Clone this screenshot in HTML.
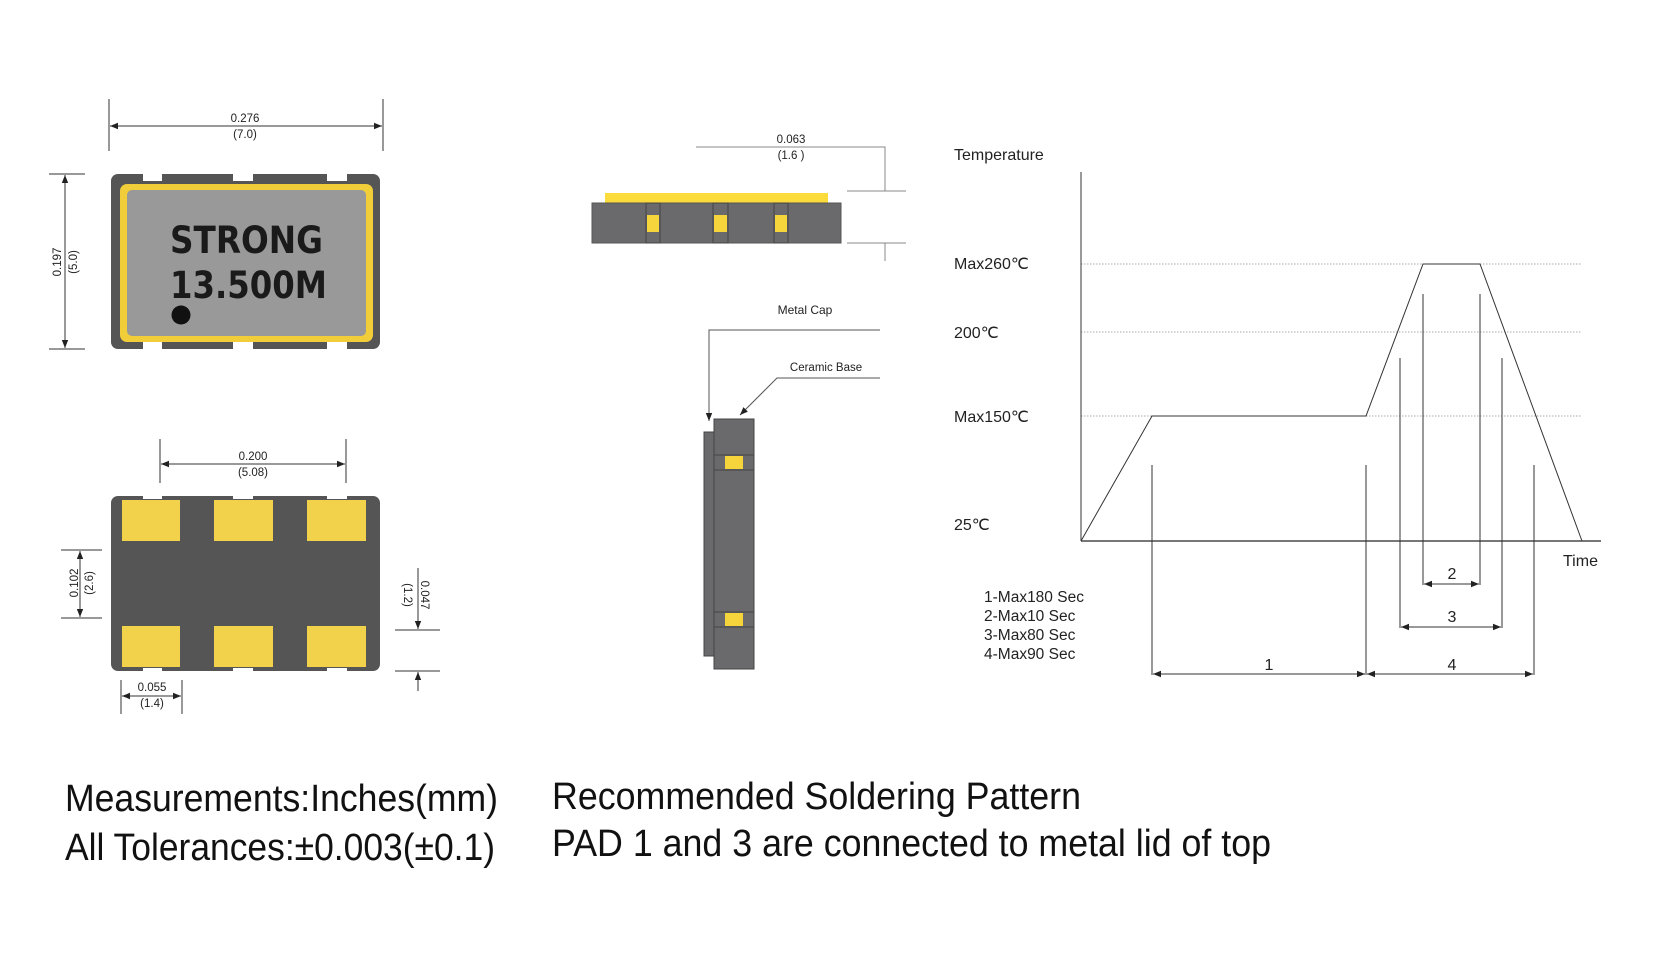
<!DOCTYPE html>
<html><head><meta charset="utf-8"><style>body{margin:0;background:#fff}svg{display:block}</style></head>
<body>
<svg width="1667" height="954" viewBox="0 0 1667 954" xmlns="http://www.w3.org/2000/svg" font-family="Liberation Sans, sans-serif">
<defs>
<marker id="a" viewBox="0 0 10 10" refX="10" refY="5" markerWidth="8" markerHeight="8" orient="auto-start-reverse" markerUnits="userSpaceOnUse"><path d="M0,1 L10,5 L0,9 z" fill="#222"/></marker>
</defs>
<rect width="1667" height="954" fill="#fff"/>
<g stroke="#333" stroke-width="1" fill="none">
<line x1="109" y1="99" x2="109" y2="151"/><line x1="383" y1="99" x2="383" y2="151"/>
<line x1="110" y1="126" x2="382" y2="126" marker-start="url(#a)" marker-end="url(#a)"/>
<line x1="49" y1="174" x2="85" y2="174"/><line x1="49" y1="349" x2="85" y2="349"/>
<line x1="65" y1="175" x2="65" y2="348" marker-start="url(#a)" marker-end="url(#a)"/>
<line x1="160" y1="439" x2="160" y2="483"/><line x1="346" y1="439" x2="346" y2="483"/>
<line x1="161" y1="464" x2="345" y2="464" marker-start="url(#a)" marker-end="url(#a)"/>
<line x1="61" y1="550" x2="102" y2="550"/><line x1="61" y1="618" x2="102" y2="618"/>
<line x1="80" y1="551" x2="80" y2="617" marker-start="url(#a)" marker-end="url(#a)"/>
<line x1="395" y1="630" x2="440" y2="630"/><line x1="395" y1="671" x2="440" y2="671"/>
<line x1="418" y1="568" x2="418" y2="629" marker-end="url(#a)"/>
<line x1="418" y1="691" x2="418" y2="672" marker-end="url(#a)"/>
<line x1="121" y1="680" x2="121" y2="714"/><line x1="182" y1="680" x2="182" y2="714"/>
<line x1="122" y1="696" x2="181" y2="696" marker-start="url(#a)" marker-end="url(#a)"/>
</g>
<g font-size="11.5" fill="#222" text-anchor="middle">
<text x="245" y="122">0.276</text><text x="245" y="138">(7.0)</text>
<text x="253" y="460">0.200</text><text x="253" y="476">(5.08)</text>
<text x="152" y="691">0.055</text><text x="152" y="707">(1.4)</text>
<text transform="translate(61,262) rotate(-90)">0.197</text>
<text transform="translate(77,262) rotate(-90)">(5.0)</text>
<text transform="translate(78,583) rotate(-90)">0.102</text>
<text transform="translate(93,583) rotate(-90)">(2.6)</text>
<text transform="translate(421,595) rotate(90)">0.047</text>
<text transform="translate(404,595) rotate(90)">(1.2)</text>
</g>
<rect x="111" y="174" width="269" height="175" rx="7" fill="#555"/>
<g fill="#fff">
<rect x="143" y="173" width="19" height="8"/><rect x="233" y="173" width="20" height="8"/><rect x="327" y="173" width="20" height="8"/>
<rect x="143" y="342" width="19" height="8"/><rect x="233" y="342" width="20" height="8"/><rect x="327" y="342" width="20" height="8"/>
</g>
<rect x="120" y="184" width="253" height="158" rx="7" fill="#f2cd3a"/>
<rect x="127" y="190" width="239" height="146" rx="5" fill="#999"/>
<text x="170" y="253" font-size="37" font-weight="bold" fill="#1a1a1a" font-family="DejaVu Sans, sans-serif" textLength="153" lengthAdjust="spacingAndGlyphs">STRONG</text>
<text x="170" y="298" font-size="37" font-weight="bold" fill="#1a1a1a" font-family="DejaVu Sans, sans-serif" textLength="157" lengthAdjust="spacingAndGlyphs">13.500M</text>
<circle cx="181" cy="315" r="9.5" fill="#111"/>
<rect x="111" y="496" width="269" height="175" rx="7" fill="#555"/>
<g fill="#fff">
<rect x="143" y="495" width="19" height="4"/><rect x="233" y="495" width="20" height="4"/><rect x="327" y="495" width="20" height="4"/>
<rect x="143" y="668" width="19" height="4"/><rect x="233" y="668" width="20" height="4"/><rect x="327" y="668" width="20" height="4"/>
</g>
<g fill="#f2d24a">
<rect x="122" y="500" width="58" height="41"/><rect x="214" y="500" width="59" height="41"/><rect x="307" y="500" width="59" height="41"/>
<rect x="122" y="626" width="58" height="41"/><rect x="214" y="626" width="59" height="41"/><rect x="307" y="626" width="59" height="41"/>
</g>
<g transform="translate(-3,0)">
<g stroke="#888" fill="none">
<polyline points="699,147 888,147 888,191"/>
<line x1="850" y1="191" x2="909" y2="191"/><line x1="850" y1="243" x2="909" y2="243"/>
<line x1="888" y1="243" x2="888" y2="261"/>
</g>
<text x="794" y="143" font-size="11.5" fill="#222" text-anchor="middle">0.063</text>
<text x="794" y="159" font-size="11.5" fill="#222" text-anchor="middle">(1.6 )</text>
<rect x="608" y="193" width="223" height="10" fill="#fbdc3c"/>
<rect x="595" y="203" width="249" height="40" fill="#6a6a6c" stroke="#555"/>
<g stroke="#444" fill="#6a6a6c"><rect x="649" y="203" width="14" height="40"/><rect x="716" y="203" width="15" height="40"/><rect x="777" y="203" width="14" height="40"/></g>
<g fill="#f6d43c"><rect x="650" y="215" width="12" height="17"/><rect x="717" y="215" width="13" height="17"/><rect x="778" y="215" width="12" height="17"/></g>
<text x="808" y="314" font-size="12" fill="#222" text-anchor="middle">Metal Cap</text>
<text x="829" y="371" font-size="11.5" fill="#222" text-anchor="middle">Ceramic Base</text>
<polyline points="883,330 712,330 712,421" stroke="#555" fill="none" marker-end="url(#a)"/>
<polyline points="883,378 780,378 743,415" stroke="#555" fill="none" marker-end="url(#a)"/>
<rect x="707" y="432" width="10" height="224" fill="#6a6a6c" stroke="#444"/>
<rect x="717" y="419" width="40" height="250" fill="#6a6a6c" stroke="#444"/>
<rect x="717" y="455" width="40" height="15" fill="#6a6a6c" stroke="#444"/>
<rect x="717" y="612" width="40" height="15" fill="#6a6a6c" stroke="#444"/>
<rect x="728" y="456" width="18" height="13" fill="#f6d43c"/>
<rect x="728" y="613" width="18" height="13" fill="#f6d43c"/>
</g>
<g transform="translate(-4,-2)">
<g font-size="16" fill="#222">
<text x="958" y="162">Temperature</text>
<text x="958" y="271">Max260℃</text>
<text x="958" y="340">200℃</text>
<text x="958" y="424">Max150℃</text>
<text x="958" y="532">25℃</text>
<text x="1567" y="568">Time</text>
</g>
<g font-size="15.5" fill="#222">
<text x="988" y="604">1-Max180 Sec</text>
<text x="988" y="623">2-Max10 Sec</text>
<text x="988" y="642">3-Max80 Sec</text>
<text x="988" y="661">4-Max90 Sec</text>
</g>
<g stroke="#aaa" stroke-dasharray="1.5,1.5" stroke-width="1">
<line x1="1085" y1="266" x2="1585" y2="266"/>
<line x1="1085" y1="334" x2="1585" y2="334"/>
<line x1="1085" y1="418" x2="1585" y2="418"/>
</g>
<g stroke="#333" fill="none">
<line x1="1085" y1="174" x2="1085" y2="543"/>
<line x1="1085" y1="543" x2="1605" y2="543" stroke="#777" stroke-width="2"/>
<polyline points="1085,543 1156,418 1370,418 1427,266 1484,266 1586,543"/>
<line x1="1156" y1="467" x2="1156" y2="677"/>
<line x1="1370" y1="467" x2="1370" y2="677"/>
<line x1="1538" y1="467" x2="1538" y2="677"/>
<line x1="1427" y1="296" x2="1427" y2="587"/>
<line x1="1484" y1="296" x2="1484" y2="587"/>
<line x1="1404" y1="360" x2="1404" y2="630"/>
<line x1="1506" y1="360" x2="1506" y2="630"/>
<line x1="1428" y1="586" x2="1483" y2="586" marker-start="url(#a)" marker-end="url(#a)"/>
<line x1="1405" y1="629" x2="1505" y2="629" marker-start="url(#a)" marker-end="url(#a)"/>
<line x1="1157" y1="676" x2="1369" y2="676" marker-start="url(#a)" marker-end="url(#a)"/>
<line x1="1371" y1="676" x2="1537" y2="676" marker-start="url(#a)" marker-end="url(#a)"/>
</g>
<g font-size="16" fill="#222" text-anchor="middle">
<text x="1456" y="581">2</text><text x="1456" y="624">3</text>
<text x="1273" y="672">1</text><text x="1456" y="672">4</text>
</g>
</g>
<g font-size="38" fill="#111" font-family="Liberation Sans Narrow, Liberation Sans, sans-serif">
<text x="65" y="811" textLength="433" lengthAdjust="spacingAndGlyphs">Measurements:Inches(mm)</text>
<text x="65" y="860" textLength="430" lengthAdjust="spacingAndGlyphs">All Tolerances:±0.003(±0.1)</text>
<text x="552" y="809" textLength="529" lengthAdjust="spacingAndGlyphs">Recommended Soldering Pattern</text>
<text x="552" y="856" textLength="719" lengthAdjust="spacingAndGlyphs">PAD 1 and 3 are connected to metal lid of top</text>
</g>
</svg>
</body></html>
